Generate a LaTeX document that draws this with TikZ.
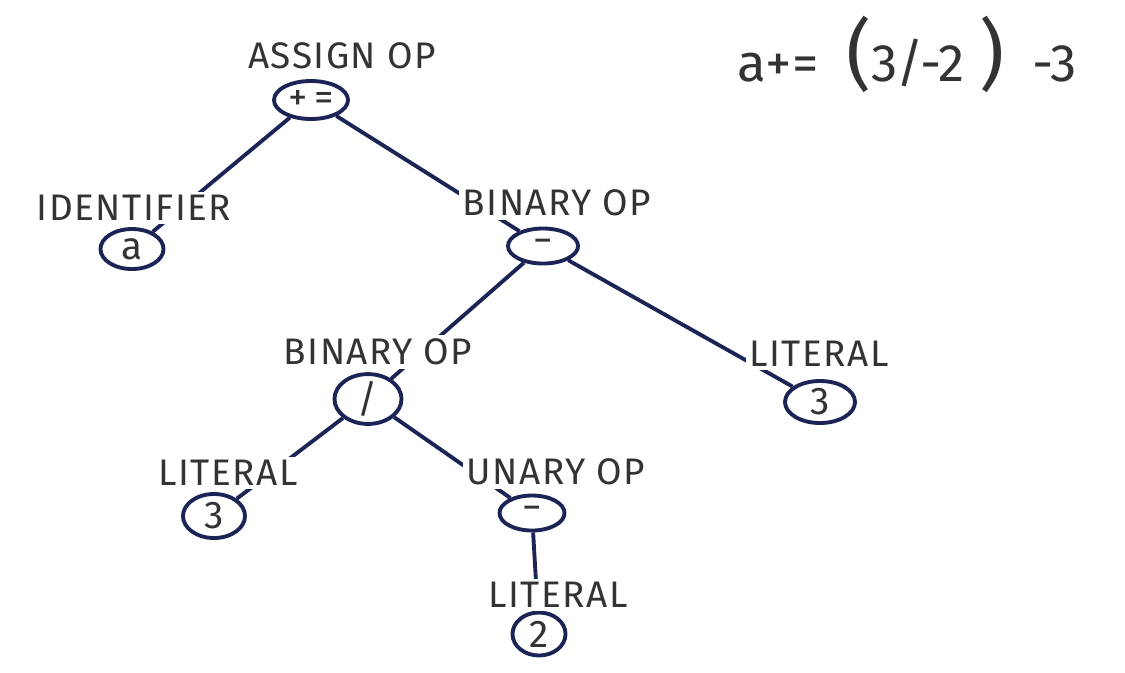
\documentclass[tikz,border=0pt]{standalone}
\usepackage{fontspec}
\usetikzlibrary{shapes.geometric}
\newfontfamily\handfont[LetterSpace=4]{Fira Sans}
\newfontfamily\exprfont{Fira Sans}
\definecolor{ink}{HTML}{1C2456}
\definecolor{pencil}{HTML}{333333}
\tikzset{
  opnode/.style={ellipse, draw=ink, line width=1.1pt, fill=white, inner sep=0pt,
    text=pencil, font=\exprfont\fontsize{11}{12}\selectfont},
  kindlabel/.style={fill=white, inner sep=1pt, text=pencil,
    font=\handfont\fontsize{10.5}{12}\selectfont},
  link/.style={draw=ink, line width=1.1pt}
}
\begin{document}
\begin{tikzpicture}[x=0.01cm, y=-0.01cm]
\useasboundingbox (0,0) rectangle (1125,672);
% operator / value ellipses
\node[opnode, minimum width=0.74cm, minimum height=0.38cm] (assign) at (311,100) {+\,=};
\node[opnode, minimum width=0.63cm, minimum height=0.40cm] (ida) at (132,249) {a};
\node[opnode, minimum width=0.70cm, minimum height=0.35cm] (minus) at (543,246) {\textminus};
\node[opnode, minimum width=0.67cm, minimum height=0.47cm] (slash) at (368,399) {/};
\node[opnode, minimum width=0.70cm, minimum height=0.42cm] (litr) at (820,402) {3};
\node[opnode, minimum width=0.62cm, minimum height=0.44cm] (litl) at (214,516) {3};
\node[opnode, minimum width=0.65cm, minimum height=0.35cm] (neg) at (532,513) {\textminus};
\node[opnode, minimum width=0.53cm, minimum height=0.43cm] (littwo) at (539,634) {2};
% connectors
\draw[link] (assign) -- (ida);
\draw[link] (assign) -- (minus);
\draw[link] (minus) -- (slash);
\draw[link] (minus) -- (litr);
\draw[link] (slash) -- (litl);
\draw[link] (slash) -- (neg);
\draw[link] (neg) -- (littwo);
% kind labels
\node[kindlabel] (lassign) at (342,56) {ASSIGN OP};
\node[kindlabel] (lida) at (134,208) {IDENTIFIER};
\node[kindlabel] (lminus) at (557,203) {BINARY OP};
\node[kindlabel] (lslash) at (378,352) {BINARY OP};
\node[kindlabel] (llitr) at (819,354) {LITERAL};
\node[kindlabel] (llitl) at (228,473) {LITERAL};
\node[kindlabel] (lneg) at (556,472) {UNARY OP};
\node[kindlabel] (llittwo) at (558,595) {LITERAL};
% source expression
\node[text=pencil, font=\exprfont\fontsize{15}{18}\selectfont, inner sep=0pt] (expr) at (907,54)
  {a+=\ \ {\fontsize{22}{22}\selectfont(}3/-2\ {\fontsize{22}{22}\selectfont)}\ \ -3};
\end{tikzpicture}
\end{document}
